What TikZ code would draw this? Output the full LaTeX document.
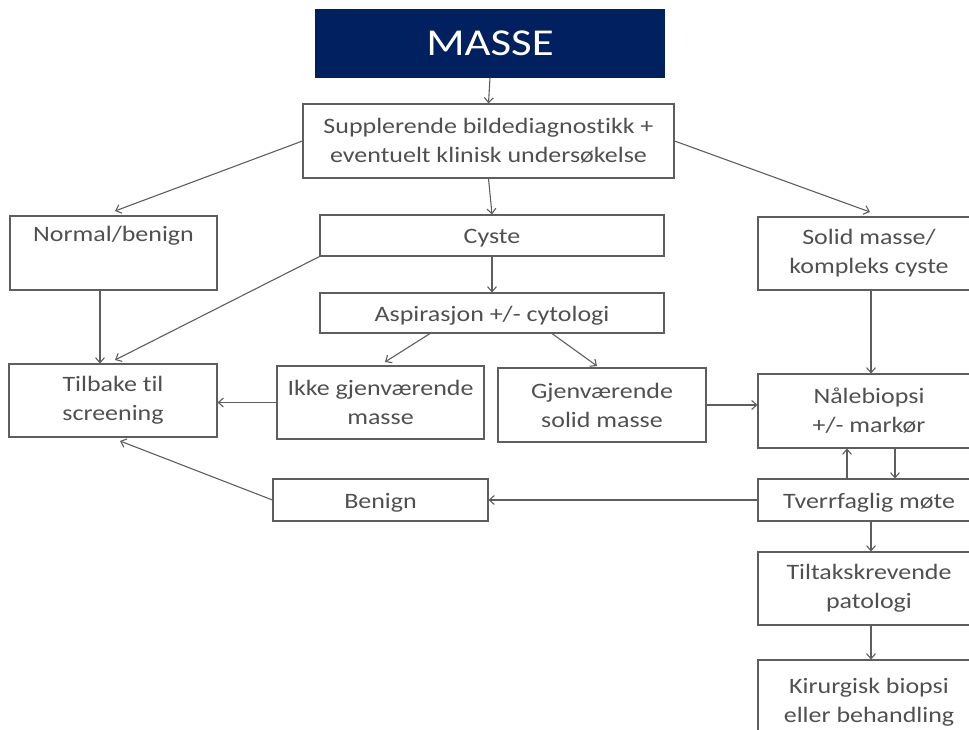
\documentclass[tikz,border=0pt]{standalone}
\usepackage{fontspec}
\setmainfont{Carlito}[Ligatures=CommonOff,FakeStretch=1.18]
\usetikzlibrary{arrows.meta,calc}
\definecolor{navy}{HTML}{002060}
\definecolor{txt}{HTML}{505050}
\definecolor{edge}{HTML}{5E5E5E}
\begin{document}
\begin{tikzpicture}[x=1pt,y=-1pt,
  box/.style={draw=edge,line width=1.1pt,inner sep=0pt,align=center,text=txt,
    font=\fontsize{22}{29}\selectfont},
  one/.style={text height=19pt,text depth=3pt},
  arr/.style={draw=edge,line width=1.1pt,-{Straight Barb[length=5pt,width=9pt]}}]
\useasboundingbox (0,0) rectangle (969,730);
\clip (0,0) rectangle (969,730);
% boxes given by pixel extents: left, top, right, bottom
\newcommand{\bx}[7]{\node[box,#7,minimum width=#4-#2,minimum height=#5-#3] (#1) at ({(#2+#4)/2},{(#3+#5)/2}) {#6};}
\bx{masse}{316}{10}{664}{77}{\fontsize{38}{38}\selectfont MASSE}{fill=navy,draw=navy,text=white}
\bx{sup}{303}{104}{674}{178}{Supplerende bildediagnostikk +\\eventuelt klinisk undersøkelse}{}
\bx{normal}{10}{216}{217}{290}{Normal/benign\\\strut}{}
\bx{cyste}{320}{215}{664}{256}{Cyste}{one}
\bx{solid}{758}{217}{980}{290}{Solid masse/\\kompleks cyste}{}
\bx{asp}{320}{293}{664}{333}{Aspirasjon +/- cytologi}{one}
\bx{tilbake}{9}{364}{217}{437}{Tilbake til\\screening}{}
\bx{ikke}{277}{366}{484}{439}{Ikke gjenværende\\masse}{}
\bx{gjen}{498}{368}{706}{442}{Gjenværende\\solid masse}{}
\bx{nal}{758}{374}{980}{448}{Nålebiopsi\\+/- markør}{}
\bx{benign}{273}{479}{488}{521}{Benign}{one}
\bx{tverr}{758}{479}{980}{521}{Tverrfaglig møte}{one}
\bx{tiltak}{758}{552}{980}{625}{Tiltakskrevende\\patologi}{}
\bx{kir}{758}{660}{980}{745}{Kirurgisk biopsi\\eller behandling}{}
% connectors
\draw[arr] (masse.south) -- (sup.north);
\draw[arr] (sup.west) -- (115,211);
\draw[arr] (sup.east) -- (870,212);
\draw[arr] (sup.south) -- (cyste.north);
\draw[arr] (cyste.south) -- (asp.north);
\draw[arr] (cyste.south west) -- (115,360);
\draw[arr] (normal.south -| 100,0) -- (tilbake.north -| 100,0);
\draw[arr] (asp.south -| 430,0) -- (385,362);
\draw[arr] (asp.south -| 552,0) -- (597,366);
\draw[arr] (ikke.west) -- (ikke.west -| tilbake.east);
\draw[arr] (gjen.east) -- (gjen.east -| nal.west);
\draw[arr] (solid.south -| 871,0) -- (nal.north -| 871,0);
\draw[arr] (tverr.north -| 847,0) -- (nal.south -| 847,0);
\draw[arr] (nal.south -| 895,0) -- (tverr.north -| 895,0);
\draw[arr] (tverr.west) -- (benign.east);
\draw[arr] (benign.west) -- (120,441);
\draw[arr] (tverr.south -| 871,0) -- (tiltak.north -| 871,0);
\draw[arr] (tiltak.south -| 871,0) -- (kir.north -| 871,0);
\end{tikzpicture}
\end{document}
